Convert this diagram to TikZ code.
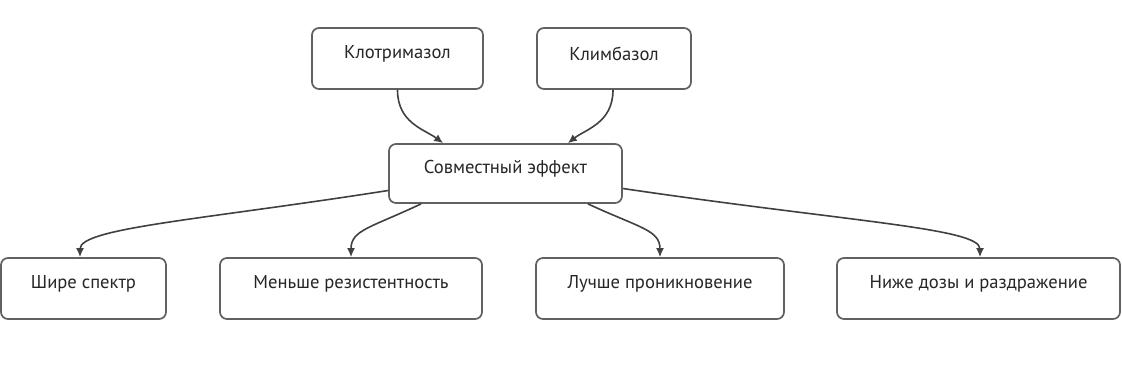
\documentclass[tikz,border=0pt]{standalone}
\usepackage{fontspec}
\setmainfont{PT Sans}
\usetikzlibrary{arrows.meta,calc}
\begin{document}
\begin{tikzpicture}[x=1pt,y=-1pt,
  box/.style={draw=black!62, line width=1.7pt, rounded corners=7pt, fill=white,
    text=black!85, font=\fontsize{18.6}{22}\selectfont, inner sep=0pt, text depth=0pt},
  lbl/.style={text=black!85, font=\fontsize{18.6}{22}\selectfont, inner sep=0pt},
  link/.style={draw=black!75, line width=1.6pt, -{Latex[length=9pt,width=8pt]}}]
\useasboundingbox (0,0) rectangle (1122,368);
\node[box, minimum width=171pt, minimum height=61pt] (klo) at (397.5,58.5) {};
\node[box, minimum width=154pt, minimum height=61pt] (kli) at (614,58.5) {};
\node[box, minimum width=233pt, minimum height=59pt] (sov) at (505.5,173.5) {};
\node[box, minimum width=165pt, minimum height=61pt] (shi) at (83.5,288.5) {};
\node[box, minimum width=262pt, minimum height=61pt] (men) at (351,288.5) {};
\node[box, minimum width=248pt, minimum height=61pt] (luc) at (660,288.5) {};
\node[box, minimum width=283pt, minimum height=61pt] (niz) at (978.5,288.5) {};
\node[lbl] (tklo) at ($(klo)+(0,-5)$) {Клотримазол};
\node[lbl] (tkli) at ($(kli)+(0,-5)$) {Климбазол};
\node[lbl] (tsov) at ($(sov)+(0,-5)$) {Совместный эффект};
\node[lbl] (tshi) at ($(shi)+(0,-5)$) {Шире спектр};
\node[lbl] (tmen) at ($(men)+(0,-5)$) {Меньше резистентность};
\node[lbl] (tluc) at ($(luc)+(0,-5)$) {Лучше проникновение};
\node[lbl] (tniz) at ($(niz)+(0,-5)$) {Ниже дозы и раздражение};

\draw[link] (klo.south) .. controls +(0,33) and ($(sov.north west)+(36,-14)$) .. ($(sov.north west)+(55,0)$);
\draw[link] ($(kli.south)+(-1,0)$) .. controls +(0,33) and ($(sov.north east)+(-37,-14)$) .. ($(sov.north east)+(-55,0)$);
\draw[link] ($(sov.west)+(0,17)$) .. controls (200,220) and (80,228) .. (shi.north -| 80,0);
\draw[link] ($(sov.south west)+(33,0)$) .. controls (370,228) and (351,230) .. (men.north);
\draw[link] ($(sov.south east)+(-35,0)$) .. controls (640,228) and (660,230) .. (luc.north);
\draw[link] ($(sov.east)+(0,15)$) .. controls (850,222) and (980,228) .. (niz.north -| 980,0);
\end{tikzpicture}
\end{document}
